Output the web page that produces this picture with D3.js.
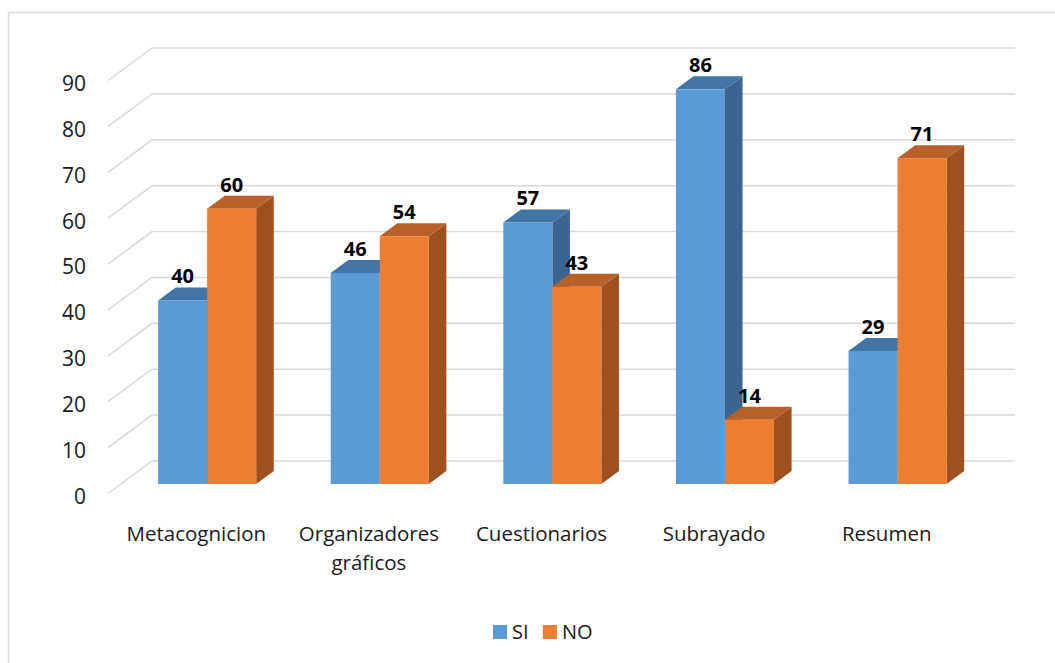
<!DOCTYPE html>
<html>
<head>
<meta charset="utf-8">
<script src="https://cdn.jsdelivr.net/npm/d3@7"></script>
<style>
  body { margin: 0; background: #fff; }
  svg text { font-family: "Open Sans", sans-serif; fill: #1a1a1a; }
</style>
</head>
<body>
<svg id="chart" width="1055" height="663"></svg>
<script>
var categories = ['Metacognicion', 'Organizadores gráficos', 'Cuestionarios', 'Subrayado', 'Resumen'];
var seriesNames = ['SI', 'NO'];
var siValues = [40, 46, 57, 86, 29];
var noValues = [60, 54, 43, 14, 71];
var yTicks = [0, 10, 20, 30, 40, 50, 60, 70, 80, 90];

var colors = { SI: '#5b9bd5', NO: '#ed7d31' };
var tops = { SI: '#4275a5', NO: '#b8602a' };
var sides = { SI: '#3b6590', NO: '#9c511f' };

var svg = d3.select('#chart');

// chart frame
svg.append('rect')
    .attr('x', 8.5).attr('y', 12.5)
    .attr('width', 1060).attr('height', 660)
    .attr('fill', 'none')
    .attr('stroke', '#d9d9d9')
    .attr('stroke-width', 1.5);

// 3D geometry: back wall and depth
var depthX = 44, depthY = -32.5;
var y = d3.scaleLinear().domain([0, 90]).range([461, 48]);
var x0 = d3.scaleBand().domain(categories).range([152, 1015])
            .paddingInner(0.432).paddingOuter(0.216);
var x1 = d3.scaleBand().domain(seriesNames).range([0, x0.bandwidth()]);

// bar front plane sits partway into the depth
var fFront = 0.292, fBack = 0.692;
var bfx = -(1 - fFront) * depthX, bfy = -(1 - fFront) * depthY;
var bdx = (fBack - fFront) * depthX, bdy = (fBack - fFront) * depthY;

// gridlines
var grid = svg.append('g');
yTicks.forEach(t => {
    grid.append('path')
        .attr('d', `M${152 - depthX},${y(t) - depthY} L152,${y(t)} L1015,${y(t)}`)
        .attr('fill', 'none')
        .attr('stroke', '#d9d9d9')
        .attr('stroke-width', 1.5);
});

// y tick labels
svg.append('g').selectAll('text')
    .data(yTicks)
    .enter().append('text')
        .attr('x', 86)
        .attr('y', d => y(d) - depthY + 3)
        .attr('dy', '0.35em')
        .attr('text-anchor', 'end')
        .style('font-size', '21px')
        .text(d => d);

// bars
var rows = [];
categories.forEach((c, i) => {
    rows.push({ cat: c, s: 'SI', v: siValues[i] });
    rows.push({ cat: c, s: 'NO', v: noValues[i] });
});

var bars = svg.append('g');
rows.forEach(d => {
    var xl = x0(d.cat) + x1(d.s) + bfx;
    var xr = xl + x1.bandwidth();
    var yb = y(0) + bfy;
    var yt = y(d.v) + bfy;
    var g = bars.append('g');
    // side
    g.append('path')
        .attr('d', `M${xr},${yt} L${xr + bdx},${yt + bdy} L${xr + bdx},${yb + bdy} L${xr},${yb} Z`)
        .attr('fill', sides[d.s]);
    // top
    g.append('path')
        .attr('d', `M${xl},${yt} L${xl + bdx},${yt + bdy} L${xr + bdx},${yt + bdy} L${xr},${yt} Z`)
        .attr('fill', tops[d.s]);
    // front
    g.append('rect')
        .attr('x', xl).attr('y', yt)
        .attr('width', x1.bandwidth()).attr('height', yb - yt)
        .attr('fill', colors[d.s]);
    // value label
    g.append('text')
        .attr('x', (xl + xr) / 2)
        .attr('y', yt - 17)
        .attr('text-anchor', 'middle')
        .style('font-size', '20px')
        .style('font-weight', 'bold')
        .style('fill', '#000')
        .text(d.v);
});

// category labels
var catLabels = svg.append('g');
categories.forEach(c => {
    var words = c.split(' ');
    var cx = x0(c) + x0.bandwidth() / 2 - depthX + 2;
    var t = catLabels.append('text')
        .attr('y', 541)
        .attr('text-anchor', 'middle')
        .style('font-size', '20.5px');
    words.forEach((w, k) => {
        t.append('tspan')
            .attr('x', cx)
            .attr('dy', k === 0 ? 0 : 29)
            .text(w);
    });
});

// legend
var legend = svg.append('g');
var lx = [493, 543];
seriesNames.forEach((s, i) => {
    legend.append('rect')
        .attr('x', lx[i]).attr('y', 625)
        .attr('width', 14).attr('height', 14)
        .attr('fill', colors[s]);
    legend.append('text')
        .attr('x', lx[i] + 19)
        .attr('y', 632)
        .attr('dy', '0.35em')
        .style('font-size', '20px')
        .text(s);
});
</script>
</body>
</html>
